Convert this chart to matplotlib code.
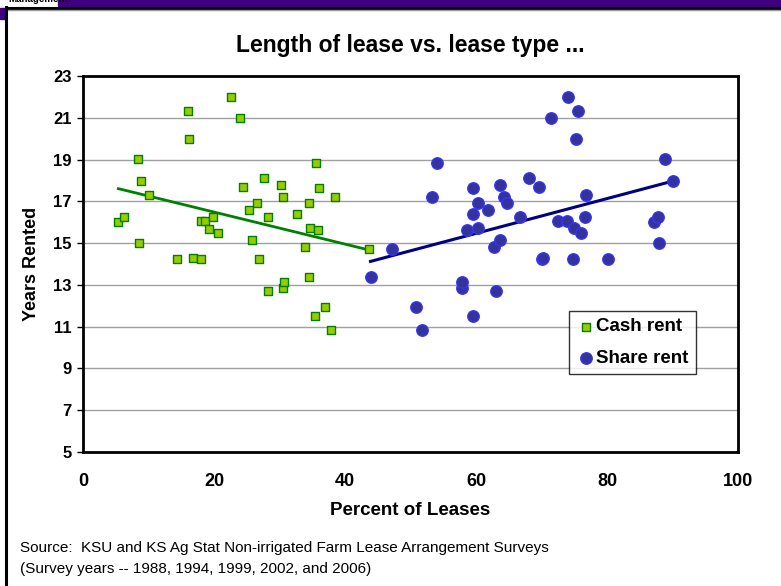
import matplotlib.pyplot as plt
import numpy as np
from matplotlib.patches import Rectangle
from matplotlib.lines import Line2D

# values
cash_x = [5.4, 6.3, 8.4, 8.8, 10.1, 8.5, 16.0, 16.2, 18.0, 18.7, 19.8, 19.3, 20.6,
          14.4, 16.8, 18.0, 22.6, 24.0, 24.5, 27.6, 26.5, 25.3, 28.3, 25.8, 26.9,
          28.3, 30.3, 30.5, 30.5, 30.75, 32.7, 34.5, 34.7, 35.9, 33.9, 34.5, 35.6,
          36.1, 38.5, 37.0, 35.4, 37.9, 43.7]
cash_y = [16.03, 16.24, 19.01, 17.98, 17.29, 15.0, 21.32, 19.98, 16.05, 16.05, 16.25,
          15.68, 15.48, 14.22, 14.30, 14.22, 22.01, 20.97, 17.7, 18.13, 16.94, 16.59,
          16.25, 15.13, 14.22, 12.70, 17.78, 17.22, 12.83, 13.13, 16.38, 16.94, 15.7,
          15.62, 14.8, 13.40, 18.83, 17.63, 17.22, 11.94, 11.52, 10.82, 14.73]

share_x = [43.9, 47.2, 50.9, 51.7, 53.3, 54.0, 57.8, 57.8, 58.7, 59.6, 60.3, 59.6,
           60.3, 59.6, 61.8, 63.6, 64.2, 64.7, 62.7, 63.6, 63.1, 66.7, 68.1, 69.6,
           70.1, 70.3, 71.4, 72.5, 73.9, 74.1, 75.0, 75.6, 75.3, 76.1, 76.6, 76.8,
           74.8, 80.1, 87.1, 87.8, 87.9, 88.8, 90.0]
share_y = [13.40, 14.71, 11.94, 10.82, 17.22, 18.83, 12.83, 13.13, 15.62, 17.63,
           16.94, 16.38, 15.70, 11.52, 16.59, 17.78, 17.22, 16.94, 14.80, 15.13,
           12.70, 16.25, 18.13, 17.70, 14.25, 14.30, 20.97, 16.05, 16.05, 22.01,
           15.70, 21.32, 19.98, 15.48, 16.25, 17.29, 14.22, 14.22, 16.03, 16.24,
           15.00, 19.01, 17.98]

x_ticks = [0, 20, 40, 60, 80, 100]
y_ticks = [5, 7, 9, 11, 13, 15, 17, 19, 21, 23]

title = 'Length of lease vs. lease type ...'
source = ('Source:  KSU and KS Ag Stat Non-irrigated Farm Lease Arrangement Surveys\n'
          '(Survey years -- 1988, 1994, 1999, 2002, and 2006)')

plt.rcParams['font.family'] = ['Liberation Sans', 'DejaVu Sans']

W, H = 781, 586
fig = plt.figure(figsize=(W / 100, H / 100), dpi=100)

# --- slide frame decorations ---
purple = '#3f0080'
fig.patches.append(Rectangle((58 / W, 1 - 6 / H), 1, 6 / H, transform=fig.transFigure,
                             color=purple, zorder=0))
fig.patches.append(Rectangle((0, 1 - 19 / H), 5 / W, 11 / H, transform=fig.transFigure,
                             color=purple, zorder=0))
fig.lines.append(Line2D([6 / W, 1], [1 - 7.5 / H, 1 - 7.5 / H], transform=fig.transFigure,
                        color='black', lw=2.2))
fig.lines.append(Line2D([6 / W, 1], [1 - 9.5 / H, 1 - 9.5 / H], transform=fig.transFigure,
                        color='#999999', lw=1))
fig.lines.append(Line2D([6 / W, 6 / W], [0, 1 - 6.5 / H], transform=fig.transFigure,
                        color='black', lw=2.2))
fig.text(8 / W, 1 + 1 / H, 'Management', fontsize=7, fontweight='bold', va='center',
         ha='left')

# --- plot area ---
ax = fig.add_axes([83 / W, 1 - 452 / H, 655 / W, 376 / H])

ax.scatter(cash_x, cash_y, marker='s', s=28, facecolor='#99cc00', edgecolor='#008000',
           linewidth=1, zorder=3, label='Cash rent')
ax.scatter(share_x, share_y, marker='o', s=68, facecolor='#333399', edgecolor='#3333ff',
           linewidth=1, zorder=3, label='Share rent')

# linear trend lines
for xs, ys, col, lw in [(cash_x, cash_y, '#008000', 2), (share_x, share_y, '#000080', 2.2)]:
    xs = np.array(xs)
    k, b = np.polyfit(xs, ys, 1)
    xx = np.array([xs.min(), xs.max()])
    ax.plot(xx, k * xx + b, color=col, lw=lw, zorder=2)

ax.set_xlim(0, 100)
ax.set_ylim(5, 23)
ax.set_xticks(x_ticks)
ax.set_yticks(y_ticks)
ax.set_xticklabels([str(v) for v in x_ticks], fontsize=13, fontweight='bold')
ax.set_yticklabels([str(v) for v in y_ticks], fontsize=12, fontweight='bold')
ax.tick_params(axis='x', length=0, pad=15)
ax.tick_params(axis='y', length=4, width=1, pad=4)
ax.grid(axis='y', color='#a0a0a0', lw=1)
ax.set_axisbelow(True)
for sp in ax.spines.values():
    sp.set_linewidth(2)

ax.set_ylabel('Years Rented', fontsize=13, fontweight='bold', labelpad=10)
ax.set_xlabel('Percent of Leases', fontsize=13.5, fontweight='bold', labelpad=9)
ax.set_title(title, fontsize=16.5, fontweight='bold', pad=17)

leg = ax.legend(loc='lower left', bbox_to_anchor=(0.742, 0.207),
                prop={'weight': 'bold', 'size': 13.5}, frameon=True, fancybox=False,
                borderpad=0.4, handletextpad=0.05, handlelength=1.0, labelspacing=0.75,
                borderaxespad=0)
leg.get_frame().set_edgecolor('black')
leg.get_frame().set_linewidth(1)

fig.text(20 / W, 1 - 558.5 / H, source, fontsize=11, va='center', ha='left',
         linespacing=1.7)

plt.savefig('out.png', dpi=100)
